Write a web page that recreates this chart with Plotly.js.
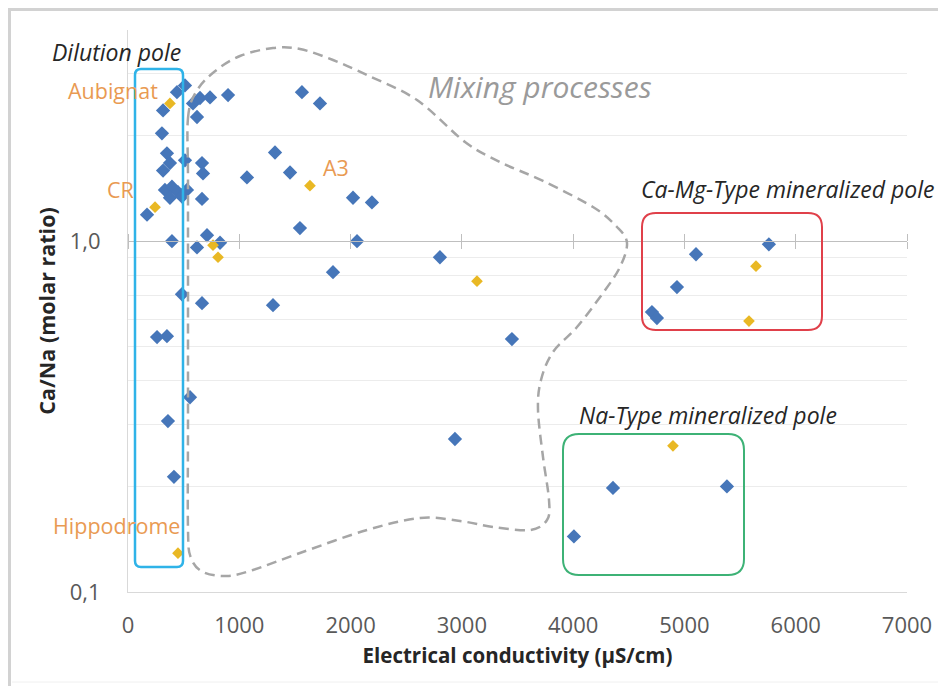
<!DOCTYPE html>
<html><head><meta charset="utf-8">
<script src="https://cdn.plot.ly/plotly-3.0.1.min.js"></script>
<style>html,body{margin:0;padding:0;background:#fff}#chart{width:938px;height:686px}</style>
</head><body><div id="chart"></div>
<script>
// ---- data ----
const blueEC = [512,440,315,584,647,737,899,620,305,1563,1725,350,377,512,665,674,315,1321,1069,1456,2022,2192,
  332,395,449,377,485,530,665,171,1545,395,620,710,827,2058,2803,1842,485,665,1303,261,350,557,359,413,2938,3450,
  5759,5104,4933,4708,4753,4358,5382,4007];
const blueRatio = [2.78,2.66,2.36,2.47,2.56,2.57,2.61,2.26,2.03,2.66,2.47,1.78,1.67,1.70,1.67,1.56,1.59,1.79,1.52,1.57,1.33,1.29,
  1.40,1.43,1.38,1.33,1.34,1.40,1.32,1.19,1.09,1.00,0.96,1.04,0.99,1.00,0.90,0.816,0.706,0.666,0.657,0.533,0.536,0.359,0.307,0.213,0.273,0.526,
  0.98,0.918,0.74,0.628,0.604,0.198,0.200,0.144];
const yellowEC = [377,243,1635,764,809,3136,5643,5580,4897,449];
const yellowRatio = [2.47,1.25,1.44,0.974,0.90,0.769,0.849,0.592,0.261,0.129];

const xTickVals = [0,1000,2000,3000,4000,5000,6000,7000];
const xTickText = ['0','1000','2000','3000','4000','5000','6000','7000'];
const yTickVals = [0.1,1];
const yTickText = ['0,1','1,0'];
const yMinorVals = [0.2,0.3,0.4,0.5,0.6,0.7,0.8,0.9,2,3,4];
const xRange = [0,7000];
const yRange = [0.1,4];

const xTitle = 'Electrical conductivity (µS/cm)';
const yTitle = 'Ca/Na (molar ratio)';

// ---- layout geometry (pixels) ----
const L=128, R=31, T=30, B=94, WW=938, HH=686;
const W=WW-L-R, H=HH-T-B;
const X = p => (p-L)/W;
const Y = p => (T+H-p)/H;
const FONT = '"Open Sans", Lato, sans-serif';

function rrect(x0,y0,x1,y1,r){
  const P=(x,y)=>X(x).toFixed(5)+','+Y(y).toFixed(5);
  return 'M'+P(x0+r,y0)+' L'+P(x1-r,y0)+' Q'+P(x1,y0)+' '+P(x1,y0+r)+
    ' L'+P(x1,y1-r)+' Q'+P(x1,y1)+' '+P(x1-r,y1)+' L'+P(x0+r,y1)+
    ' Q'+P(x0,y1)+' '+P(x0,y1-r)+' L'+P(x0,y0+r)+' Q'+P(x0,y0)+' '+P(x0+r,y0)+' Z';
}
function smoothClosed(pts){
  const n=pts.length, P=(x,y)=>X(x).toFixed(5)+','+Y(y).toFixed(5);
  let d='M'+P(pts[0][0],pts[0][1]);
  for(let i=0;i<n;i++){
    const p0=pts[(i-1+n)%n],p1=pts[i],p2=pts[(i+1)%n],p3=pts[(i+2)%n];
    const c1=[p1[0]+(p2[0]-p0[0])/6,p1[1]+(p2[1]-p0[1])/6];
    const c2=[p2[0]-(p3[0]-p1[0])/6,p2[1]-(p3[1]-p1[1])/6];
    d+=' C'+P(c1[0],c1[1])+' '+P(c2[0],c2[1])+' '+P(p2[0],p2[1]);
  }
  return d+' Z';
}
const mixPts=[[188,118],[196,92],[214,72],[240,56],[273,48],[300,49],[333,60],[367,75],[417,100],[465,142],[500,162],
  [543,181],[593,207],[617,227],[627,243],[620,267],[603,293],[577,327],[553,352],[541,380],[538,410],[543,457],
  [549,500],[547,520],[530,530],[493,527],[460,521],[420,518],[367,530],[300,553],[253,570],[227,576],[203,572],
  [191,558],[188,530],[188,420],[188,300],[188,180]];

const ly1 = (Math.log10(1)-Math.log10(yRange[0]))/(Math.log10(yRange[1])-Math.log10(yRange[0]));

const traces = [
  {type:'scatter',mode:'markers',x:blueEC,y:blueRatio,marker:{symbol:'diamond',size:11,color:'#4676B9'},hoverinfo:'x+y',showlegend:false},
  {type:'scatter',mode:'markers',x:yellowEC,y:yellowRatio,marker:{symbol:'diamond',size:9,color:'#E9B824'},hoverinfo:'x+y',showlegend:false},
  {type:'scatter',mode:'markers',x:[],y:[],xaxis:'x2',yaxis:'y',showlegend:false},
  {type:'scatter',mode:'markers',x:[],y:[],xaxis:'x3',yaxis:'y',showlegend:false}
];

const ann = (text,cx,cy,size,color,italic,extra)=>Object.assign({xref:'paper',yref:'paper',x:X(cx),y:Y(cy),
  xanchor:'center',yanchor:'middle',showarrow:false,text:italic?'<i>'+text+'</i>':text,
  font:{family:FONT,size:size,color:color}},extra||{});

const layout = {
  width:WW,height:HH,margin:{l:L,r:R,t:T,b:B,pad:0},
  paper_bgcolor:'#fff',plot_bgcolor:'#fff',showlegend:false,
  font:{family:FONT,color:'#595959'},
  xaxis:{range:xRange,tickmode:'array',tickvals:xTickVals,ticktext:xTickText,showgrid:false,zeroline:false,
    showline:true,linecolor:'#d9d9d9',linewidth:1,ticks:'',ticklabelstandoff:14,
    tickfont:{family:FONT,size:22,color:'#595959'},
    title:{text:'<b>'+xTitle+'</b>',font:{family:FONT,size:20.5,color:'#262626'},standoff:10},fixedrange:true},
  xaxis2:{overlaying:'x',anchor:'free',position:ly1,side:'bottom',range:xRange,tickmode:'array',tickvals:xTickVals,
    showticklabels:false,showgrid:false,zeroline:false,showline:true,linecolor:'#bfbfbf',linewidth:1,
    ticks:'outside',ticklen:7,tickcolor:'#bfbfbf',tickwidth:1,fixedrange:true},
  xaxis3:{overlaying:'x',anchor:'free',position:ly1,side:'top',range:xRange,tickmode:'array',tickvals:xTickVals,
    showticklabels:false,showgrid:false,zeroline:false,showline:false,
    ticks:'outside',ticklen:7,tickcolor:'#bfbfbf',tickwidth:1,fixedrange:true},
  yaxis:{type:'log',range:[Math.log10(yRange[0]),Math.log10(yRange[1])],tickmode:'array',tickvals:yTickVals,ticktext:yTickText,
    showgrid:false,zeroline:false,showline:true,linecolor:'#d9d9d9',linewidth:1,ticks:'',ticklabelstandoff:22,
    tickfont:{family:FONT,size:22,color:'#595959'},
    minor:{tickmode:'array',tickvals:yMinorVals,showgrid:true,gridcolor:'#ececec',gridwidth:1,ticks:''},
    title:{text:'<b>'+yTitle+'</b>',font:{family:FONT,size:21.5,color:'#262626'},standoff:8},fixedrange:true},
  shapes:[
    {type:'line',xref:'paper',yref:'paper',x0:X(8),x1:X(938),y0:Y(9.5),y1:Y(9.5),line:{color:'#d2d2d2',width:3}},
    {type:'line',xref:'paper',yref:'paper',x0:X(9.5),x1:X(9.5),y0:Y(8),y1:Y(686),line:{color:'#d2d2d2',width:3}},
    {type:'line',xref:'paper',yref:'paper',x0:X(12),x1:X(938),y0:Y(682),y1:Y(682),line:{color:'#f0f0f0',width:1}},
    {type:'path',xref:'paper',yref:'paper',path:smoothClosed(mixPts),line:{color:'#a6a6a6',width:2.5,dash:'10px,6px'}},
    {type:'path',xref:'paper',yref:'paper',path:rrect(135,69,183,567,6),line:{color:'#2FB3E8',width:2.5}},
    {type:'path',xref:'paper',yref:'paper',path:rrect(642,213,822,330,14),line:{color:'#E0404A',width:2}},
    {type:'path',xref:'paper',yref:'paper',path:rrect(563,434,744,575,16),line:{color:'#3DB276',width:2}}
  ],
  annotations:[
    ann('Dilution pole',116,52,23,'#262626',true),
    ann('Mixing processes',540,87,30,'#9a9a9a',true),
    ann('Ca-Mg-Type mineralized pole',788,189,23,'#262626',true),
    ann('Na-Type mineralized pole',708,415,23,'#262626',true),
    ann('Aubignat',113,90,21.5,'#E99A52',false),
    ann('CR',120,190,21.5,'#E99A52',false),
    ann('A3',336,167,21.5,'#E99A52',false),
    ann('Hippodrome',116,525,21.5,'#E99A52',false)
  ]
};
Plotly.newPlot('chart',traces,layout,{staticPlot:true,displayModeBar:false});
</script></body></html>
